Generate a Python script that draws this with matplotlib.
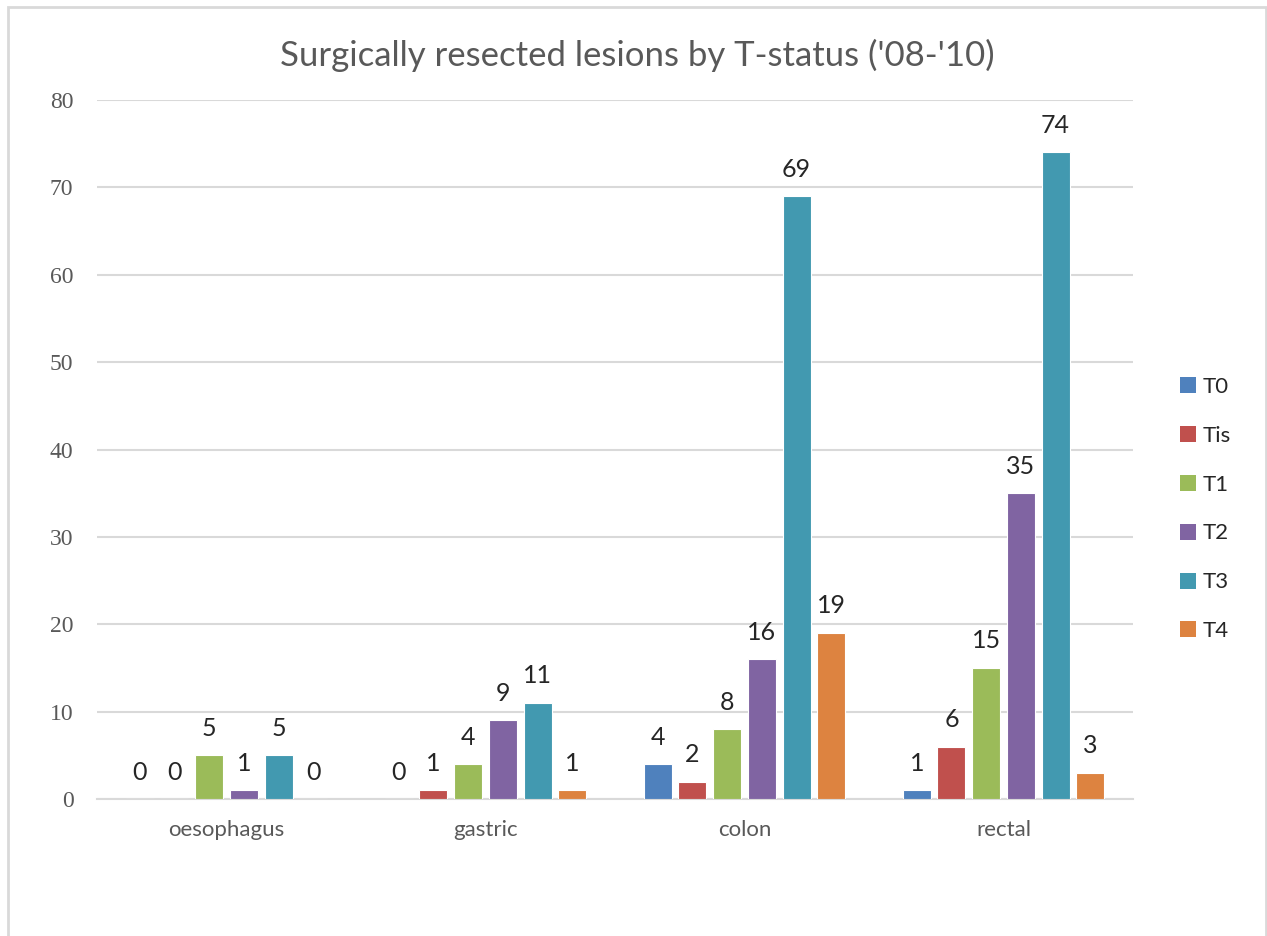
import numpy as np
import matplotlib
matplotlib.use('Agg')
import matplotlib.pyplot as plt
from matplotlib.patches import Rectangle, Patch

categories = ['oesophagus', 'gastric', 'colon', 'rectal']
series = ['T0', 'Tis', 'T1', 'T2', 'T3', 'T4']
T0 = [0, 0, 4, 1]
Tis = [0, 1, 2, 6]
T1 = [5, 4, 8, 15]
T2 = [1, 9, 16, 35]
T3 = [5, 11, 69, 74]
T4 = [0, 1, 19, 3]
values = [T0, Tis, T1, T2, T3, T4]
colors = ['#4F81BD', '#C0504D', '#9BBB59', '#8064A2', '#4299B0', '#DD8340']
yticks = [0, 10, 20, 30, 40, 50, 60, 70, 80]

plt.rcParams['font.family'] = ['Lato', 'DejaVu Sans']

fig = plt.figure(figsize=(12.67, 9.36), dpi=100)
# outer chart border
fig.patches.append(Rectangle((8 / 1267, -0.1), (1266 - 8) / 1267, 1.1 - 7 / 936,
                             transform=fig.transFigure, fill=False,
                             edgecolor='#D9D9D9', lw=2, zorder=0))

ax = fig.add_axes([97 / 1267, 1 - 799 / 936, (1133 - 97) / 1267, (799 - 100) / 936])

x = np.arange(len(categories))
step = 0.134
width = 0.108
for i, (name, vals, c) in enumerate(zip(series, values, colors)):
    pos = x + (i - 2.5) * step
    ax.bar(pos, vals, width, color=c, edgecolor='white', lw=0.8, label=name, zorder=3)
    for px, v in zip(pos, vals):
        ax.annotate(str(v), (px, v), xytext=(0, 27), textcoords='offset pixels',
                    ha='center', va='center', fontsize=18, color='#262626')

ax.set_xlim(-0.5, 3.5)
ax.set_ylim(0, 80)
ax.set_yticks(yticks)
ax.set_yticklabels([str(t) for t in yticks], fontsize=17, color='#595959',
                   family='Liberation Serif')
ax.set_xticks(x)
ax.set_xticklabels(categories, fontsize=16, color='#595959')
ax.tick_params(axis='both', length=0)
ax.tick_params(axis='y', pad=17)
ax.tick_params(axis='x', pad=15)
ax.grid(axis='y', color='#D9D9D9', lw=1.5, zorder=0)
for s in ['top', 'right', 'left']:
    ax.spines[s].set_visible(False)
ax.spines['bottom'].set_color('#D9D9D9')
ax.spines['bottom'].set_linewidth(1.5)

fig.text(637 / 1267, 1 - 55 / 936, "Surgically resected lesions by T-status ('08-'10)",
         ha='center', va='center', fontsize=25, color='#595959')

handles = [Patch(facecolor=c, edgecolor='none') for c in colors]
fig.legend(handles, series, loc='center left', bbox_to_anchor=(1180 / 1267, 1 - 509 / 936),
           frameon=False, fontsize=16, borderpad=0, borderaxespad=0,
           handlelength=0.73, handleheight=0.73, handletextpad=0.3, labelspacing=1.3,
           labelcolor='#262626')

fig.savefig('out.png', dpi=100)
